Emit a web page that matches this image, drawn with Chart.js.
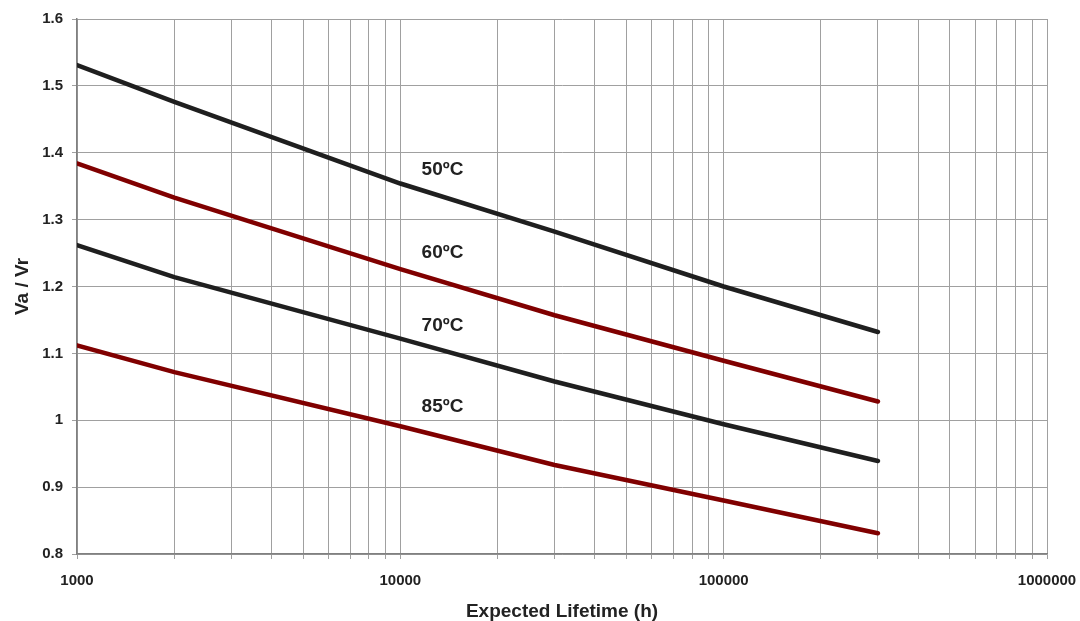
<!DOCTYPE html>
<html>
<head>
<meta charset="utf-8">
<script src="https://cdn.jsdelivr.net/npm/chart.js@4"></script>
<style>
  html, body { margin: 0; padding: 0; background: #fff; }
  canvas { display: block; }
</style>
</head>
<body>
<canvas id="mychart" width="1080" height="621"></canvas>
<script>
// data
var lifetimes = [1000, 2000, 10000, 30000, 100000, 300000];
var v50 = [1.531, 1.476, 1.354, 1.282, 1.200, 1.132];
var v60 = [1.384, 1.333, 1.226, 1.157, 1.089, 1.028];
var v70 = [1.262, 1.214, 1.122, 1.058, 0.994, 0.939];
var v85 = [1.112, 1.072, 0.991, 0.933, 0.880, 0.831];

var seriesNames = ["50ºC", "60ºC", "70ºC", "85ºC"];
// where the curve labels sit (in data units)
var labelX = [13500, 13500, 13500, 13500];
var labelY = [1.374, 1.251, 1.141, 1.020];

var decades = [1000, 10000, 100000, 1000000];
var multipliers = [1, 2, 3, 4, 5, 6, 7, 8, 9];
var yTicks = [0.8, 0.9, 1, 1.1, 1.2, 1.3, 1.4, 1.5, 1.6];

var xTicks = [];
decades.forEach(function(d){
  multipliers.forEach(function(m){
    if (d * m <= 1000000) xTicks.push(d * m);
  });
});

function pts(vals){
  return lifetimes.map(function(x, i){ return {x: x, y: vals[i]}; });
}

var black = "#1f1f1f";
var red = "#800000";

var curveLabels = {
  id: "curveLabels",
  afterDatasetsDraw: function(chart){
    var ctx = chart.ctx;
    var xs = chart.scales.x, ys = chart.scales.y;
    ctx.save();
    ctx.font = "bold 19px 'Liberation Sans', Arial, sans-serif";
    ctx.fillStyle = "#222";
    ctx.textAlign = "center";
    ctx.textBaseline = "middle";
    for (var i = 0; i < seriesNames.length; i++) {
      ctx.fillText(seriesNames[i], xs.getPixelForValue(labelX[i]), ys.getPixelForValue(labelY[i]));
    }
    ctx.restore();
  }
};

var tickFont = { family: "'Liberation Sans', Arial, sans-serif", size: 15, weight: "bold" };
var titleFont = { family: "'Liberation Sans', Arial, sans-serif", size: 19, weight: "bold" };

var mychart = document.getElementById("mychart").getContext("2d");
var chart = new Chart(mychart, {
  type: "line",
  data: {
    datasets: [
      { label: seriesNames[0], data: pts(v50), borderColor: black },
      { label: seriesNames[1], data: pts(v60), borderColor: red },
      { label: seriesNames[2], data: pts(v70), borderColor: black },
      { label: seriesNames[3], data: pts(v85), borderColor: red }
    ]
  },
  options: {
    responsive: false,
    animation: false,
    layout: { padding: { top: 19, right: 33, left: 0, bottom: 0 } },
    elements: {
      line: { borderWidth: 4.5, tension: 0, borderCapStyle: "round", borderJoinStyle: "round", fill: false },
      point: { radius: 0, hoverRadius: 0 }
    },
    plugins: { legend: { display: false }, tooltip: { enabled: false } },
    scales: {
      x: {
        type: "logarithmic",
        min: 1000,
        max: 1000000,
        afterBuildTicks: function(scale){
          scale.ticks = xTicks.map(function(v){ return {value: v, major: decades.indexOf(v) >= 0}; });
        },
        afterFit: function(scale){
          scale.height = 67;
          scale.paddingLeft = 0;
          scale.paddingRight = 0;
        },
        ticks: {
          autoSkip: false,
          maxRotation: 0,
          padding: 13,
          color: "#222",
          font: tickFont,
          callback: function(v){ return decades.indexOf(v) >= 0 ? String(v) : ""; }
        },
        grid: { color: "#a0a0a0", lineWidth: 1, tickLength: 5 },
        border: { color: "#808080", width: 1.5 },
        title: { display: true, text: "Expected Lifetime (h)", color: "#222", font: titleFont, padding: { top: 0, bottom: -2 } }
      },
      y: {
        min: 0.8,
        max: 1.6,
        afterBuildTicks: function(scale){
          scale.ticks = yTicks.map(function(v){ return {value: v}; });
        },
        afterFit: function(scale){ scale.width = 77; },
        ticks: {
          padding: 9,
          color: "#222",
          font: tickFont,
          callback: function(v){ return String(Math.round(v * 10) / 10); }
        },
        grid: { color: "#a0a0a0", lineWidth: 1, tickLength: 5 },
        border: { color: "#808080", width: 1.5 },
        title: { display: true, text: "Va / Vr", color: "#222", font: titleFont, padding: { top: 11, bottom: 0 } }
      }
    }
  },
  plugins: [curveLabels]
});
</script>
</body>
</html>
